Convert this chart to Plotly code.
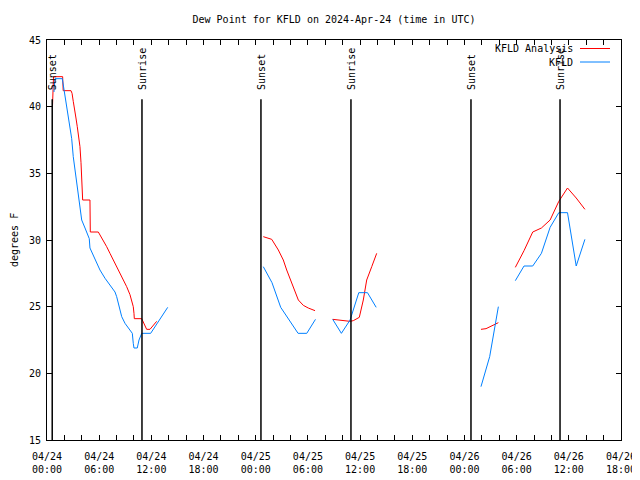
import pandas as pd
import plotly.graph_objects as go

BASE = pd.Timestamp("2024-04-24 00:00")

# hours since 2024-04-24 00:00 UTC (None = gap in data)
analysis_hours = [0.63, 0.75, 1.80, 1.86, 2.76, 2.88, 3.02, 3.22, 3.33, 3.48, 3.79, 3.91, 4.06, 4.10,
                  4.94, 4.98, 5.90, 6.09, 6.47, 6.86, 7.24, 7.62, 8.01, 8.39, 8.77, 9.16, 9.54, 9.74,
                  9.92, 10.00, 10.04, 10.89, 11.46, 11.84, 12.61,
                  None,
                  24.87, 25.84, 26.60, 27.17, 27.56, 28.14, 28.51, 28.90, 29.47, 30.04, 30.82,
                  None,
                  32.85, 33.49, 34.46, 34.84, 35.22, 35.91, 36.37, 36.76, 37.34, 37.91,
                  None,
                  49.90, 50.48, 51.90,
                  None,
                  53.85, 54.85, 55.85, 56.85, 57.85, 58.85, 59.85, 60.85, 61.85]
analysis_dewpt = [40.0, 42.25, 42.25, 41.2, 41.2, 41.0, 40.4, 39.75, 39.15, 38.5, 37.0, 35.8, 34.0, 33.0,
                  33.0, 30.6, 30.6, 30.4, 30.0, 29.5, 29.0, 28.5, 28.0, 27.6, 27.1, 26.5, 25.9, 25.5,
                  25.0, 24.5, 24.1, 24.1, 23.3, 23.3, 23.9,
                  None,
                  30.25, 30.05, 29.25, 28.5, 27.75, 26.75, 26.1, 25.5, 25.1, 24.9, 24.7,
                  None,
                  24.05, 24.0, 23.9, 23.9, 23.95, 24.2, 25.5, 27.0, 28.0, 29.0,
                  None,
                  23.3, 23.35, 23.8,
                  None,
                  27.95, 29.2, 30.6, 30.9, 31.5, 32.9, 33.9, 33.15, 32.3]

obs_hours = [0.80, 0.92, 1.76, 1.96, 2.27, 2.45, 2.65, 2.84, 3.02, 3.22, 3.42, 3.60, 3.79, 3.99,
             4.37, 4.86, 4.94, 6.09, 6.67, 7.24, 7.82, 8.01, 8.20, 8.59, 8.97, 9.54, 9.81, 9.92,
             10.00, 10.38, 10.58, 10.89, 11.92, 13.88,
             None,
             24.87, 25.87, 26.87, 27.87, 28.87, 29.87, 30.87,
             None,
             32.85, 33.85, 34.85, 35.85, 36.85, 37.85,
             None,
             49.90, 50.90, 51.90,
             None,
             53.85, 54.85, 55.85, 56.85, 57.85, 58.85, 59.85, 60.85, 61.85]
obs_dewpt = [41.1, 42.1, 42.1, 41.25, 40.0, 39.0, 38.25, 37.6, 36.25, 35.25, 34.1, 33.5, 32.5, 31.5,
             30.9, 30.1, 29.4, 27.75, 27.13, 26.6, 26.1, 25.75, 25.25, 24.25, 23.75, 23.25, 23.0, 22.25,
             21.9, 21.9, 22.5, 23.0, 23.0, 24.95,
             None,
             28.0, 26.8, 24.95, 24.0, 23.0, 23.0, 24.05,
             None,
             24.05, 23.0, 24.0, 26.05, 26.05, 24.95,
             None,
             19.0, 21.25, 25.0,
             None,
             26.95, 28.05, 28.05, 29.0, 30.95, 32.05, 32.05, 28.05, 30.05]

event_hours = [0.60, 10.92, 24.60, 34.95, 48.75, 58.99]
event_labels = ["Sunset", "Sunrise", "Sunset", "Sunrise", "Sunset", "Sunrise"]

series_names = ["KFLD Analysis", "KFLD"]
series_colors = ["#ff0000", "#0080ff"]


def to_time(hours):
    return [None if h is None else BASE + pd.Timedelta(hours=h) for h in hours]


FONT = "DejaVu Sans Mono"
# the page body has an 8px margin; size the figure so it fills the 640x480 window
OFF = 8
W, H = 640 - OFF, 480 - OFF
PL, PR, PT, PB = 47, 621, 40, 440          # plot frame in window pixels
PW, PH = PR - PL, PB - PT

fig = go.Figure()
for name, hrs, vals, col in [(series_names[0], analysis_hours, analysis_dewpt, series_colors[0]),
                             (series_names[1], obs_hours, obs_dewpt, series_colors[1])]:
    fig.add_trace(go.Scatter(x=to_time(hrs), y=vals, mode="lines", name=name,
                             line=dict(color=col, width=1), connectgaps=False, showlegend=False))

YMIN, YMAX = 15, 45
for h, lab in zip(event_hours, event_labels):
    t = BASE + pd.Timedelta(hours=h)
    fig.add_shape(type="line", xref="x", yref="y", x0=t, x1=t, y0=YMIN, y1=40.55,
                  line=dict(color="black", width=1.5))
    fig.add_annotation(x=t, y=41.1, xref="x", yref="y", text=lab, textangle=-90, showarrow=False,
                       xanchor="center", yanchor="bottom", font=dict(family=FONT, size=10, color="black"))

# gnuplot-style key: text on the left, line sample on the right
for i, (name, col) in enumerate(zip(series_names, series_colors)):
    ypx = 48.5 + 13.5 * i
    yp = 1 - (ypx - PT) / PH
    fig.add_annotation(x=(575 - PL) / PW, y=yp, xref="paper", yref="paper", text=name,
                       showarrow=False, xanchor="right", yanchor="middle",
                       font=dict(family=FONT, size=10, color="black"))
    fig.add_shape(type="line", xref="paper", yref="paper", x0=(580 - PL) / PW, x1=(610 - PL) / PW,
                  y0=yp, y1=yp, line=dict(color=col, width=1))

# y-axis title placed like gnuplot's ylabel
fig.add_annotation(x=(14 - PL) / PW, y=0.5, xref="paper", yref="paper", text="degrees F", textangle=-90,
                   showarrow=False, xanchor="center", yanchor="middle",
                   font=dict(family=FONT, size=10, color="black"))

fig.update_layout(
    width=W, height=H,
    margin=dict(l=PL - OFF, r=640 - PR, t=PT - OFF, b=480 - PB, autoexpand=False),
    plot_bgcolor="white", paper_bgcolor="white",
    font=dict(family=FONT, size=10, color="black"),
    title=dict(text="Dew Point for KFLD on 2024-Apr-24 (time in UTC)", x=0.5, xref="paper",
               y=1 - (19 - OFF) / H, yanchor="middle", font=dict(family=FONT, size=10, color="black")),
    showlegend=False,
)
fig.update_xaxes(
    type="date", automargin=False,
    range=[BASE, BASE + pd.Timedelta(hours=66)],
    tick0=BASE, dtick=6 * 3600 * 1000, tickformat="%m/%d<br>%H:%M",
    ticks="inside", ticklen=5, tickcolor="black", tickwidth=1,
    minor=dict(dtick=2 * 3600 * 1000, ticks="inside", ticklen=5, tickcolor="black", showgrid=False),
    showline=True, linecolor="black", linewidth=1, mirror="ticks",
    showgrid=False, zeroline=False, tickfont=dict(family=FONT, size=10, color="black"),
    ticklabelstandoff=7,
)
fig.update_yaxes(
    range=[YMIN, YMAX], dtick=5, tick0=15, automargin=False,
    ticks="inside", ticklen=5, tickcolor="black", tickwidth=1,
    showline=True, linecolor="black", linewidth=1, mirror="ticks",
    showgrid=False, zeroline=False, tickfont=dict(family=FONT, size=10, color="black"),
    ticklabelstandoff=3,
)

fig.write_html("out.html")
